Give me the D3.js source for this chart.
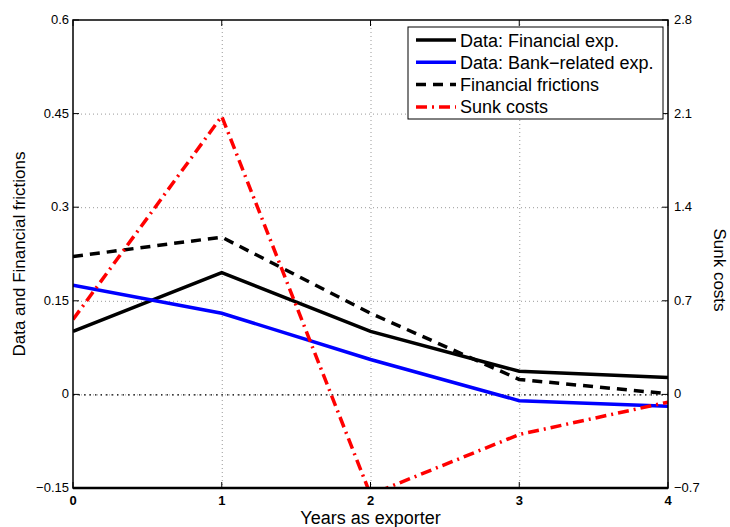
<!DOCTYPE html>
<html>
<head>
<meta charset="utf-8">
<script src="https://cdn.jsdelivr.net/npm/d3@7"></script>
<style>
  body { margin: 0; background: #fff; }
  svg { font-family: "Liberation Sans", Arial, sans-serif; }
</style>
</head>
<body>
<svg id="grafico" width="730" height="527"></svg>
<script>
const years = [0, 1, 2, 3, 4];
const financialExp = [0.101, 0.195, 0.101, 0.037, 0.027];
const bankExp = [0.175, 0.130, 0.056, -0.010, -0.019];
const frictions = [0.221, 0.252, 0.130, 0.024, 0.001];
const sunkCosts = [0.56, 2.08, -0.75, -0.30, -0.058];

const leftTicks = [-0.15, 0, 0.15, 0.3, 0.45, 0.6];
const rightTicks = [-0.7, 0, 0.7, 1.4, 2.1, 2.8];
const xTicks = [0, 1, 2, 3, 4];

const svg = d3.select("#grafico");
const m = { left: 73, right: 668, top: 20, bottom: 488 };

const x = d3.scaleLinear().domain([0, 4]).range([m.left, m.right]);
const yL = d3.scaleLinear().domain([-0.15, 0.6]).range([m.bottom, m.top]);
const yR = d3.scaleLinear().domain([-0.7, 2.8]).range([m.bottom, m.top]);

svg.append("defs").append("clipPath").attr("id", "clip")
  .append("rect")
  .attr("x", m.left).attr("y", m.top)
  .attr("width", m.right - m.left).attr("height", m.bottom - m.top);

// grid
const grid = svg.append("g").attr("stroke", "#999").attr("stroke-width", 1).attr("stroke-dasharray", "1,3");
grid.selectAll(".gx").data(xTicks.slice(1, -1)).join("line")
  .attr("x1", d => x(d) + 0.5).attr("x2", d => x(d) + 0.5)
  .attr("y1", m.top).attr("y2", m.bottom);
grid.selectAll(".gy").data(leftTicks.slice(1, -1)).join("line")
  .attr("x1", m.left).attr("x2", m.right)
  .attr("y1", d => yL(d) + 0.5).attr("y2", d => yL(d) + 0.5);

// zero line
svg.append("line")
  .attr("x1", m.left).attr("x2", m.right)
  .attr("y1", yL(0) + 0.5).attr("y2", yL(0) + 0.5)
  .attr("stroke", "#000").attr("stroke-width", 1.2).attr("stroke-dasharray", "1.5,4");

// series
const lineL = d3.line().x((d, i) => x(years[i])).y(d => yL(d));
const lineR = d3.line().x((d, i) => x(years[i])).y(d => yR(d));

const plot = svg.append("g").attr("clip-path", "url(#clip)").attr("fill", "none");

const series = [
  { name: "Data: Financial exp.", vals: financialExp, gen: lineL, color: "#000", dash: null },
  { name: "Data: Bank\u2212related exp.", vals: bankExp, gen: lineL, color: "#0000ff", dash: null },
  { name: "Financial frictions", vals: frictions, gen: lineL, color: "#000", dash: "10,7" },
  { name: "Sunk costs", vals: sunkCosts, gen: lineR, color: "#ff0000", dash: "11,5,2,5" }
];

plot.selectAll("path")
  .data(series)
  .join("path")
  .attr("d", d => d.gen(d.vals))
  .attr("stroke", d => d.color)
  .attr("stroke-width", 3.5)
  .attr("stroke-dasharray", d => d.dash);

// box and ticks
const axes = svg.append("g").attr("stroke", "#000");
axes.append("rect")
  .attr("x", m.left).attr("y", m.top)
  .attr("width", m.right - m.left).attr("height", m.bottom - m.top)
  .attr("fill", "none").attr("stroke-width", 1.5);
axes.append("line")
  .attr("x1", m.left).attr("x2", m.right)
  .attr("y1", m.bottom).attr("y2", m.bottom).attr("stroke-width", 2.5);

const tl = 6;
axes.selectAll(".tx").data(xTicks).join("line")
  .attr("x1", d => x(d)).attr("x2", d => x(d))
  .attr("y1", m.bottom).attr("y2", m.bottom - tl);
axes.selectAll(".txt").data(xTicks).join("line")
  .attr("x1", d => x(d)).attr("x2", d => x(d))
  .attr("y1", m.top).attr("y2", m.top + tl);
axes.selectAll(".tyl").data(leftTicks).join("line")
  .attr("x1", m.left).attr("x2", m.left + tl)
  .attr("y1", d => yL(d)).attr("y2", d => yL(d));
axes.selectAll(".tyr").data(rightTicks).join("line")
  .attr("x1", m.right).attr("x2", m.right - tl)
  .attr("y1", d => yR(d)).attr("y2", d => yR(d));

// tick labels
const fmtL = d => (d < 0 ? "\u2212" : "") + String(Math.abs(d));
svg.append("g").selectAll("text").data(leftTicks).join("text")
  .attr("x", m.left - 4).attr("y", d => yL(d) + 4)
  .attr("text-anchor", "end").attr("font-size", 13)
  .text(fmtL);
svg.append("g").selectAll("text").data(rightTicks).join("text")
  .attr("x", m.right + 6).attr("y", d => yR(d) + 4)
  .attr("text-anchor", "start").attr("font-size", 13)
  .text(fmtL);
svg.append("g").selectAll("text").data(xTicks).join("text")
  .attr("x", d => x(d)).attr("y", m.bottom + 17)
  .attr("text-anchor", "middle").attr("font-size", 13).attr("font-weight", "bold")
  .text(d => d);

// axis labels
svg.append("text")
  .attr("x", (m.left + m.right) / 2).attr("y", 524)
  .attr("text-anchor", "middle").attr("font-size", 18)
  .text("Years as exporter");
svg.append("text")
  .attr("transform", `translate(25,${(m.top + m.bottom) / 2}) rotate(-90)`)
  .attr("text-anchor", "middle").attr("font-size", 17)
  .text("Data and Financial frictions");
svg.append("text")
  .attr("transform", `translate(714,${(m.top + m.bottom) / 2 + 16}) rotate(90)`)
  .attr("text-anchor", "middle").attr("font-size", 17)
  .text("Sunk costs");

// legend
const lg = svg.append("g").attr("transform", "translate(408,27)");
lg.append("rect").attr("width", 255).attr("height", 92)
  .attr("fill", "#fff").attr("stroke", "#000").attr("stroke-width", 1);
const rows = lg.selectAll(".row").data(series).join("g")
  .attr("transform", (d, i) => `translate(0,${13 + i * 22.3})`);
rows.append("line")
  .attr("x1", 8).attr("x2", 48).attr("y1", 0).attr("y2", 0)
  .attr("stroke", d => d.color).attr("stroke-width", 3.5)
  .attr("stroke-dasharray", d => d.dash);
rows.append("text")
  .attr("x", 52).attr("y", 6.5).attr("font-size", 18)
  .text(d => d.name);
</script>
</body>
</html>
